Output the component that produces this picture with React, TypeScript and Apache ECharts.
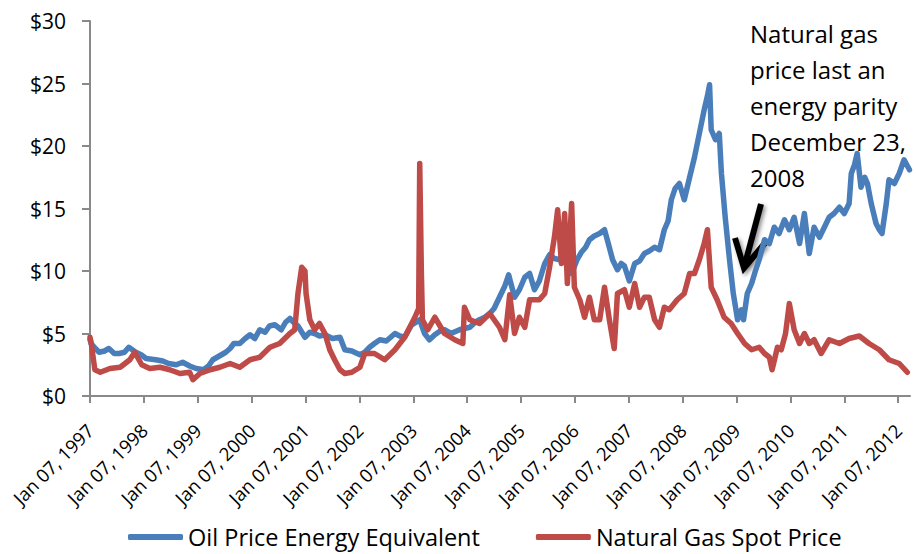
import React, { useEffect, useRef } from "react";
import * as echarts from "echarts";

// x values are fractional years (1997.0 = Jan 07, 1997)
const oilDates = [
  1997.0, 1997.02, 1997.1, 1997.17, 1997.27, 1997.35, 1997.45, 1997.54, 1997.64, 1997.72, 1997.85, 1997.95,
  1998.04, 1998.22, 1998.35, 1998.46, 1998.6, 1998.72, 1998.85, 1998.97, 1999.11, 1999.2, 1999.28, 1999.4,
  1999.52, 1999.6, 1999.67, 1999.78, 1999.88, 1999.97, 2000.06, 2000.15, 2000.25, 2000.33, 2000.43, 2000.55,
  2000.63, 2000.71, 2000.8, 2000.86, 2000.99, 2001.08, 2001.17, 2001.26, 2001.36, 2001.5, 2001.64, 2001.73,
  2001.86, 2002.01, 2002.1, 2002.19, 2002.28, 2002.38, 2002.5, 2002.66, 2002.75, 2002.84, 2002.97, 2003.05,
  2003.12, 2003.21, 2003.3, 2003.4, 2003.5, 2003.58, 2003.7, 2003.86, 2003.95, 2004.05, 2004.15, 2004.23,
  2004.33, 2004.42, 2004.5, 2004.6, 2004.7, 2004.77, 2004.88, 2004.97, 2005.07, 2005.16, 2005.25, 2005.34,
  2005.44, 2005.53, 2005.62, 2005.72, 2005.81, 2005.94, 2006.04, 2006.12, 2006.2, 2006.27, 2006.36, 2006.46,
  2006.55, 2006.62, 2006.7, 2006.79, 2006.86, 2006.92, 2007.01, 2007.11, 2007.2, 2007.29, 2007.38, 2007.48,
  2007.57, 2007.66, 2007.73, 2007.79, 2007.86, 2007.94, 2008.03, 2008.13, 2008.22, 2008.31, 2008.4, 2008.46,
  2008.5, 2008.53, 2008.61, 2008.68, 2008.72, 2008.79, 2008.87, 2008.94, 2009.02, 2009.09, 2009.13, 2009.2,
  2009.28, 2009.35, 2009.42, 2009.52, 2009.61, 2009.7, 2009.79, 2009.89, 2009.98, 2010.07, 2010.17, 2010.26,
  2010.35, 2010.44, 2010.54, 2010.63, 2010.72, 2010.81, 2010.91, 2011.0, 2011.09, 2011.13, 2011.19, 2011.24,
  2011.31, 2011.38, 2011.43, 2011.5, 2011.59, 2011.65, 2011.7, 2011.78, 2011.83, 2011.93, 2012.02, 2012.11,
  2012.21,
];
const oilPrices = [
  4.5, 4.2, 3.8, 3.5, 3.6, 3.8, 3.4, 3.4, 3.5, 3.9, 3.5, 3.3,
  3.0, 2.9, 2.8, 2.6, 2.5, 2.7, 2.4, 2.2, 2.1, 2.4, 2.9, 3.2,
  3.5, 3.8, 4.2, 4.2, 4.6, 4.9, 4.6, 5.3, 5.1, 5.6, 5.7, 5.3,
  5.9, 6.2, 5.8, 5.6, 4.7, 5.1, 5.0, 4.8, 4.9, 4.6, 4.7, 3.7,
  3.6, 3.3, 3.5, 3.9, 4.2, 4.5, 4.4, 5.0, 4.8, 4.7, 5.7, 5.9,
  6.1, 5.0, 4.5, 4.9, 5.2, 5.3, 5.0, 5.3, 5.4, 5.5, 5.9, 6.1,
  6.3, 6.6, 7.0, 7.9, 8.8, 9.7, 7.9, 8.5, 9.5, 9.8, 8.5, 9.2,
  10.6, 11.3, 11.0, 10.9, 11.7, 9.8, 10.9, 11.5, 11.9, 12.5, 12.8, 13.0,
  13.3, 12.2, 10.9, 10.1, 10.6, 10.4, 9.2, 10.6, 10.8, 11.4, 11.6, 11.9,
  11.7, 13.3, 14.0, 15.7, 16.6, 17.0, 15.7, 17.5, 19.1, 21.0, 22.9, 24.0,
  24.9, 21.3, 20.5, 21.0, 17.8, 14.3, 10.9, 8.2, 6.1, 6.9, 6.1, 8.2,
  9.0, 10.0, 10.9, 12.5, 12.2, 13.5, 13.0, 14.1, 13.3, 14.3, 12.2, 14.6,
  11.4, 13.5, 12.7, 13.5, 14.3, 14.6, 15.1, 14.6, 15.4, 17.8, 18.5, 19.4,
  16.7, 17.5, 17.0, 15.4, 13.8, 13.3, 13.0, 15.4, 17.3, 17.0, 17.8, 18.9,
  18.1,
];

const gasDates = [
  1997.0, 1997.02, 1997.09, 1997.19, 1997.37, 1997.56, 1997.74, 1997.83, 1997.96, 1998.11, 1998.3, 1998.48,
  1998.67, 1998.85, 1998.91, 1999.04, 1999.23, 1999.41, 1999.6, 1999.78, 1999.97, 2000.15, 2000.34, 2000.52,
  2000.71, 2000.8, 2000.86, 2000.93, 2000.99, 2001.01, 2001.08, 2001.17, 2001.26, 2001.36, 2001.45, 2001.54,
  2001.64, 2001.73, 2001.86, 2002.01, 2002.1, 2002.28, 2002.47, 2002.66, 2002.84, 2003.03, 2003.1, 2003.12,
  2003.15, 2003.17, 2003.27, 2003.4, 2003.58, 2003.77, 2003.92, 2003.95, 2004.05, 2004.23, 2004.42, 2004.6,
  2004.7, 2004.79, 2004.88, 2004.97, 2005.07, 2005.16, 2005.34, 2005.44, 2005.53, 2005.62, 2005.68, 2005.75,
  2005.81, 2005.86, 2005.94, 2005.99, 2006.09, 2006.18, 2006.27, 2006.36, 2006.46, 2006.55, 2006.64, 2006.73,
  2006.79, 2006.92, 2007.01, 2007.11, 2007.2, 2007.29, 2007.38, 2007.48, 2007.57, 2007.66, 2007.75, 2007.9,
  2008.03, 2008.13, 2008.22, 2008.31, 2008.4, 2008.46, 2008.53, 2008.64, 2008.77, 2008.9, 2009.02, 2009.15,
  2009.28, 2009.42, 2009.52, 2009.61, 2009.66, 2009.76, 2009.83, 2009.91, 2009.98, 2010.07, 2010.17, 2010.26,
  2010.35, 2010.44, 2010.57, 2010.72, 2010.91, 2011.09, 2011.28, 2011.46, 2011.65, 2011.83, 2012.02, 2012.17,
];
const gasPrices = [
  4.7, 4.3, 2.1, 1.9, 2.2, 2.3, 2.9, 3.5, 2.5, 2.2, 2.3, 2.1,
  1.8, 1.9, 1.3, 1.8, 2.1, 2.3, 2.6, 2.3, 2.9, 3.1, 3.9, 4.2,
  5.0, 5.3, 8.2, 10.3, 10.0, 8.2, 6.1, 5.3, 5.8, 5.0, 3.7, 2.9,
  2.1, 1.8, 1.9, 2.3, 3.4, 3.4, 2.9, 3.7, 4.7, 6.3, 7.0, 18.6,
  10.0, 6.1, 5.3, 6.3, 5.0, 4.5, 4.2, 7.1, 6.1, 5.8, 6.6, 5.5,
  4.5, 8.1, 5.0, 6.3, 5.5, 7.7, 7.7, 8.2, 10.3, 12.7, 14.9, 10.6,
  14.6, 9.0, 15.4, 8.7, 7.7, 6.3, 7.9, 6.1, 6.1, 8.7, 6.1, 3.8,
  8.2, 8.5, 7.1, 9.0, 7.1, 7.9, 7.9, 6.1, 5.5, 7.1, 6.9, 7.7,
  8.2, 9.8, 9.8, 10.9, 12.2, 13.3, 8.7, 7.7, 6.3, 5.8, 5.0, 4.2,
  3.7, 3.9, 3.4, 3.1, 2.1, 3.9, 3.7, 5.0, 7.4, 5.3, 4.2, 5.0,
  4.2, 4.5, 3.4, 4.5, 4.2, 4.6, 4.8, 4.2, 3.7, 2.9, 2.6, 1.9,
];

const yearTicks = [1997, 1998, 1999, 2000, 2001, 2002, 2003, 2004, 2005, 2006, 2007, 2008, 2009, 2010, 2011, 2012];
const annotationLines = ["Natural gas", "price last an", "energy parity", "December 23,", "2008"];
const seriesNames = ["Oil Price Energy Equivalent", "Natural Gas Spot Price"];

const FONT = "'Open Sans', sans-serif";

export default function App() {
  const ref = useRef<HTMLDivElement>(null);
  useEffect(() => {
    if (!ref.current) return;
    const chart = echarts.init(ref.current, null, { renderer: "svg" });
    const axisGray = "#898989";
    const arrowStyle = {
      stroke: "#000",
      lineWidth: 6,
      shadowBlur: 4,
      shadowColor: "rgba(0,0,0,0.45)",
      shadowOffsetX: 2,
      shadowOffsetY: 2,
    };
    chart.setOption({
      animation: false,
      backgroundColor: "#ffffff",
      textStyle: { fontFamily: FONT },
      grid: { left: 90, right: 6, top: 21, bottom: 158, containLabel: false },
      legend: {
        left: 123,
        top: 524,
        padding: [0, 5, 0, 5],
        itemWidth: 55,
        itemHeight: 6,
        itemGap: 56,
        icon: "roundRect",
        textStyle: { fontFamily: FONT, fontSize: 23.5, lineHeight: 26, color: "#000" },
        data: seriesNames,
      },
      xAxis: {
        type: "value",
        min: 1997,
        max: 2012.22,
        interval: 1,
        splitLine: { show: false },
        axisLine: { lineStyle: { color: axisGray, width: 2 } },
        axisTick: { show: true, length: 7, lineStyle: { color: axisGray, width: 2 }, customValues: yearTicks },
        axisLabel: {
          customValues: yearTicks,
          rotate: 45,
          margin: 31,
          fontFamily: FONT,
          fontSize: 18.5,
          color: "#000",
          formatter: (v: number) => `Jan 07, ${Math.round(v)}`,
        },
      },
      yAxis: {
        type: "value",
        min: 0,
        max: 30,
        interval: 5,
        splitLine: { show: false },
        axisLine: { show: true, lineStyle: { color: axisGray, width: 2 } },
        axisTick: { show: true, length: 8, lineStyle: { color: axisGray, width: 2 } },
        axisLabel: {
          margin: 24,
          fontFamily: FONT,
          fontSize: 21,
          color: "#000",
          formatter: (v: number) => `$${v}`,
        },
      },
      series: [
        {
          name: seriesNames[0],
          type: "line",
          showSymbol: false,
          symbol: "none",
          data: oilDates.map((d, i) => [d, oilPrices[i]]),
          lineStyle: { color: "#4A7EBB", width: 5.5, join: "round", cap: "round" },
          itemStyle: { color: "#4A7EBB" },
          z: 2,
        },
        {
          name: seriesNames[1],
          type: "line",
          showSymbol: false,
          symbol: "none",
          data: gasDates.map((d, i) => [d, gasPrices[i]]),
          lineStyle: { color: "#BE4B48", width: 5.5, join: "round", cap: "round" },
          itemStyle: { color: "#BE4B48" },
          z: 3,
        },
      ],
      graphic: [
        {
          type: "text",
          left: 750,
          top: 15,
          z: 10,
          style: {
            text: annotationLines.join("\n"),
            fontFamily: FONT,
            fontSize: 24,
            lineHeight: 36,
            fill: "#000",
          },
        },
        {
          type: "group",
          z: 10,
          children: [
            { type: "line", shape: { x1: 761, y1: 204, x2: 745, y2: 264 }, style: arrowStyle },
            {
              type: "polyline",
              shape: { points: [[735, 238], [744, 268], [765, 243]] },
              style: { ...arrowStyle, fill: "none", lineJoin: "miter" },
            },
          ],
        },
      ],
    });
    return () => chart.dispose();
  }, []);
  return <div ref={ref} style={{ position: "fixed", left: 0, top: 0, width: 916, height: 554 }} />;
}
